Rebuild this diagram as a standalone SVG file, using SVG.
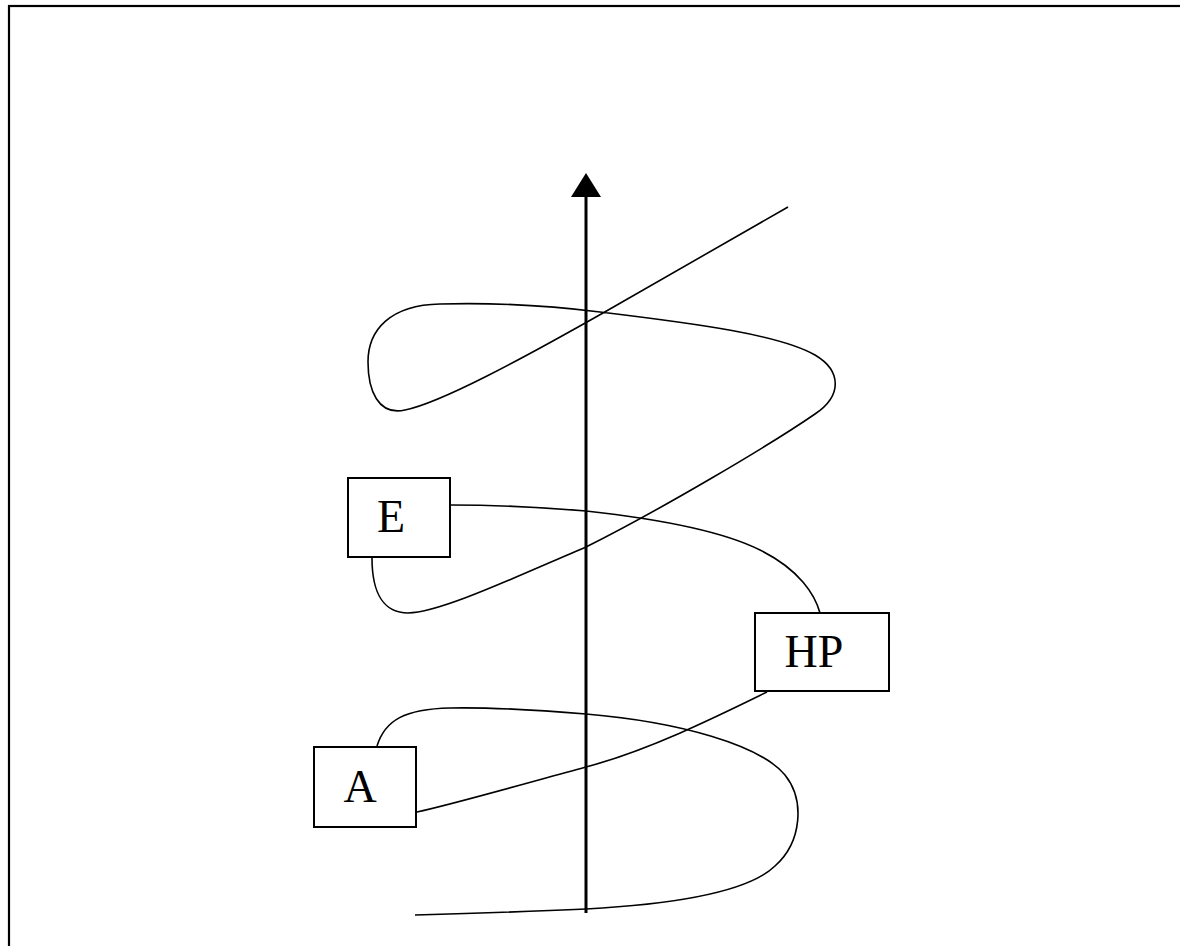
<svg xmlns="http://www.w3.org/2000/svg" width="1180" height="946" viewBox="0 0 1180 946">
<style>
.frame{fill:none;stroke:#000;stroke-width:2.2}
.box{fill:#fff;stroke:#000;stroke-width:2}
.lbl{font-family:"Liberation Serif","Times New Roman",serif;font-size:46px;fill:#000;text-anchor:middle}
.curve{fill:none;stroke:#000;stroke-width:1.6}
.axis{fill:none;stroke:#000;stroke-width:3}
</style>
<defs>
<marker id="arr" viewBox="0 0 10 10" refX="2" refY="5" markerWidth="10" markerHeight="10" markerUnits="userSpaceOnUse" orient="auto">
<path d="M0,0 L10,5 L0,10 z" fill="#000"/>
</marker>
</defs>
<rect width="1180" height="946" fill="#fff"/>
<rect class="frame" x="9" y="6" width="1200" height="1000"/>
<g id="connectors">
<line class="axis" x1="586" y1="913" x2="586" y2="196"/>
<polygon points="586,173 571,197 601,197" fill="#000"/>
<path class="curve" d="M788,207 L603,313 C520,360 440,403 405,410 C378,416 368,390 368,362 C368,330 390,305 440,304 C510,302 560,307 600,312 C700,324 780,335 815,355 C842,371 842,396 815,414 C770,445 660,510 586,547 C520,575 440,613 408,613 C385,613 372,595 372,558"/>
<path class="curve" d="M451,505 C500,505 550,508 586,511 C650,518 720,530 760,550 C800,570 815,595 820,613"/>
<path class="curve" d="M767,692 C720,715 650,750 586,767 C520,785 450,805 417,812"/>
<path class="curve" d="M377,746 C385,720 405,709 450,708 C500,707 550,711 586,714 C680,722 760,745 785,775 C805,800 802,842 775,866 C745,895 660,905 586,909 C520,912 450,914 415,915"/>
</g>
<g id="node-E">
<rect class="box" x="348" y="478" width="102" height="79"/>
<text class="lbl" x="391" y="532">E</text>
</g>
<g id="node-HP">
<rect class="box" x="755" y="613" width="134" height="78"/>
<text class="lbl" x="814" y="667">HP</text>
</g>
<g id="node-A">
<rect class="box" x="314" y="747" width="102" height="80"/>
<text class="lbl" x="360" y="802">A</text>
</g>
</svg>
